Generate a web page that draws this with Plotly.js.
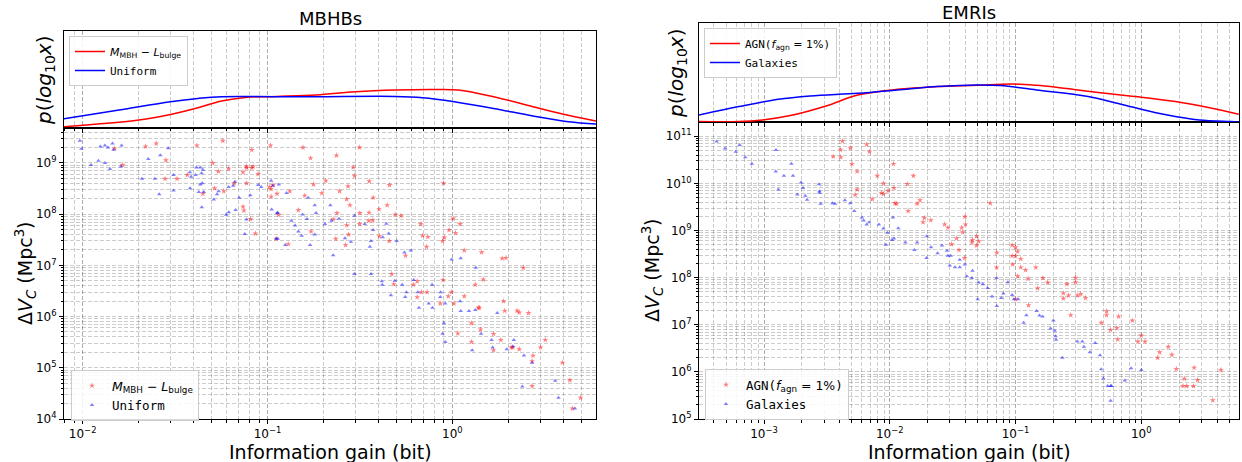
<!DOCTYPE html>
<html><head><meta charset="utf-8">
<script src="https://cdn.plot.ly/plotly-3.0.1.min.js"></script>
<style>html,body{margin:0;padding:0;background:#fff}#plot{width:1242px;height:462px}</style>
</head><body><div id="plot"></div>
<script>
// ---------------- DATA ----------------
// MBHBs: KDE of log10(information gain)
const mbhbKdeRedX = [0.00792,0.02014,0.02985,0.04207,0.05649,0.07586,0.1122,0.1837,0.2999,0.4898,0.7998,1.074,1.671,2.729,3.846,5.984];
const mbhbKdeRedP = [0.014,0.108,0.186,0.280,0.374,0.424,0.438,0.458,0.504,0.528,0.536,0.528,0.434,0.294,0.200,0.094];
const mbhbKdeBlueX = [0.00792,0.01574,0.02985,0.04207,0.05649,0.1122,0.1837,0.4898,0.6902,1.023,1.671,2.729,4.246,5.984];
const mbhbKdeBlueP = [0.126,0.248,0.364,0.410,0.434,0.434,0.434,0.438,0.420,0.364,0.270,0.164,0.084,0.052];

// MBHBs scatter: M_MBH - L_bulge (red stars)
const mbhbRedX = [0.0149,0.01644,0.0219,0.025,0.0282,0.0279,0.0324,0.0368,0.0415,0.0447,0.0505,0.0517,0.0542,0.0573,0.058,0.0616,0.066,0.0737,0.0737,0.0745,0.0768,0.0772,0.077,0.0822,0.081,0.0822,0.0835,0.086,0.0889,0.1038,0.1025,0.1046,0.1046,0.107,0.1114,0.1125,0.1148,0.1294,0.132,0.147,0.1555,0.159,0.171,0.172,0.1773,
0.1968,0.2066,0.2266,0.236,0.2375,0.234,0.2455,0.2645,0.268,0.268,0.2727,0.2745,0.279,0.2904,0.2955,0.3143,0.316,0.315,0.3543,0.355,0.3535,0.3714,0.373,0.401,0.403,0.444,0.4555,0.457,0.47,0.482,0.49,0.527,0.558,0.615,0.645,0.645,0.675,0.68,0.69,0.73,0.725,0.737,0.86,0.885,0.895,0.905,0.89,0.95,0.96,0.99,1.01,1.04,1.02,1.1,1.16,1.16,1.33,1.44,1.47,1.86,1.95,1.89,2.42,
1.38,1.40,1.27,1.07,1.27,1.42,1.67,1.83,1.67,1.92,2.24,2.3,2.58,2.08,2.12,2.3,2.73,2.7,3.0,3.18,2.7,3.94,4.32,4.94,4.46];
const mbhbRedY = [1.9e9,9.1e8,2.1e9,2.4e9,1.13e9,4.9e8,4.9e8,5.8e8,2.2e9,2.5e8,1.0e9,3.2e8,6.8e8,2.7e9,2.8e8,7.7e8,4.0e8,6.6e8,1.4e8,1.18e8,8.5e8,8.0e8,4.0e8,1.8e9,8e7,8e8,8.5e8,4.2e7,6.1e8,2.2e9,3.4e8,3.1e8,2.2e8,3.7e8,3.3e7,2.5e8,9.7e7,2.6e7,2.8e8,1.2e8,2.0e9,2.3e8,1.24e9,4.6e7,3.8e8,
2.57e8,4.5e8,8e7,1.4e9,1.05e8,3.3e7,2.8e8,2.5e7,1.96e8,6.1e7,3.5e8,4e7,1.5e8,8.2e8,5.6e8,2.0e9,1.05e8,6.4e7,1.07e8,4.4e8,7.4e7,7.6e7,2.1e8,1.25e8,3.7e7,1.5e8,3e7,3.7e8,6.8e6,4.3e6,9.8e7,9.3e7,1.55e7,4.2e6,4.9e6,2.4e6,6.4e7,3e6,3.8e7,3e6,2.3e7,3.6e7,1.8e6,3e7,4e8,3.5e7,5.2e6,2.5e6,4.9e7,3e6,8.2e7,4.3e7,1.8e6,6.4e7,1.96e7,2.5e6,4.2e6,1.8e7,5.3e6,1.37e7,1.4e7,2e6,9e6,
1.49e6,1.49e6,7.4e5,4.7e5,3.2e5,5.6e5,4.6e5,3.5e5,2.2e5,1.29e6,1.3e6,1.2e6,1.17e6,2.5e5,2.5e5,2.3e5,1.73e5,1.35e5,2.5e5,3.5e5,4.4e4,1.26e5,5.7e4,2.6e4,1.6e4];

// MBHBs scatter: Uniform (blue triangles)
const mbhbBlueX = [0.00966,0.00984,0.0111,0.01217,0.01247,0.0132,0.0132,0.0137,0.01406,0.0145,0.01467,0.01624,0.0161,0.02094,0.02265,0.0246,0.02596,0.0263,0.02903,0.031,0.031,0.038,0.0386,0.0381,0.0408,0.0412,0.0425,0.0433,0.0447,0.0433,0.0444,0.044,0.0441,0.0452,0.0512,0.0533,0.0544,0.0597,0.0617,0.0616,0.0652,0.0667,0.0672,0.0703,0.0753,0.077,0.0807,0.089,0.0925,0.1046,0.1053,0.107,0.1114,0.1135,0.1125,0.1136,0.1152,0.1247,0.1268,0.1346,0.141,0.1468,0.153,0.155,0.1635,0.166,0.17,0.18,0.18,0.183,
0.2044,0.2187,0.222,0.2266,0.2435,0.2625,0.2826,0.2955,0.2955,0.3355,0.358,0.3626,0.363,0.3727,0.42,0.415,0.4175,0.4395,0.4525,0.465,0.488,0.50,0.5355,0.55,0.564,0.556,0.596,0.618,0.65,0.745,0.777,0.86,0.865,0.915,0.99,1.1,1.11,1.34,
0.66,0.78,0.9,0.885,0.915,1.11,1.23,1.33,1.28,1.43,1.63,1.65,1.75,1.97,2.15,2.13,2.44,2.7,2.39,3.6,3.75,4.6];
const mbhbBlueY = [2.7e9,1.9e9,9.1e8,1.1e9,2.1e9,2.2e9,1.0e9,2.0e9,7.6e8,2.4e9,1.8e9,2.2e9,8.5e8,4.9e8,1.2e9,4.9e8,2.45e8,1.41e9,1.93e9,5.8e8,2.9e8,6.6e8,5.4e8,3.2e8,5.8e8,8.1e8,2.7e8,8.1e8,7.4e8,3.8e8,4.0e8,6.3e8,1.37e8,2.7e8,1.93e8,2.45e8,2.8e8,9.7e7,1.09e8,3.4e8,3.6e8,4.3e8,1.2e8,2.1e8,4.1e7,7.9e7,2.35e8,3.7e8,3.4e8,4.5e8,1.23e8,3.6e8,3.3e7,3.3e7,1.05e8,1.07e8,3.8e8,2.5e7,2.6e8,7.4e7,6.0e7,4.6e7,3.8e7,9.8e7,8e7,2.1e8,2.5e7,1.5e8,4e7,1.05e8,
6.4e7,1.5e8,7.4e7,1.58e7,8.1e7,3.4e7,2.9e7,9.3e7,6.8e6,6.4e7,2.3e7,3e7,6.8e6,4.9e7,3.55e7,4.9e6,4.2e6,6.5e7,4.2e7,2.6e6,5e6,3e7,4.2e6,1.78e7,3e6,2.4e6,1.94e7,5.2e6,3e6,1.8e6,4.2e6,2.4e6,3e6,1.8e6,1.3e7,2e6,1.37e7,9e6,
1.49e6,1.49e6,7.4e5,4.6e5,3.2e5,1.29e6,1.29e6,1.35e6,2.2e5,4.6e5,3.5e5,2.5e5,1.17e6,2.3e5,3.5e5,2.6e5,1.73e5,1.26e5,4.3e4,5.6e4,2.6e4,1.6e4];

// EMRIs: KDE of log10(information gain)
const emriKdeRedX = [0.000304,0.000630,0.000973,0.00162,0.00311,0.00557,0.0115,0.0238,0.0493,0.0948,0.1466,0.2109,0.4365,0.9036,1.866,3.342,5.970];
const emriKdeRedP = [0.007,0.007,0.023,0.067,0.163,0.273,0.330,0.357,0.370,0.383,0.370,0.350,0.300,0.257,0.207,0.150,0.080];
const emriKdeBlueX = [0.000304,0.000630,0.00130,0.00233,0.00557,0.0115,0.0238,0.0493,0.0762,0.1466,0.3776,0.7816,1.614,2.891,5.164,5.970];
const emriKdeBlueP = [0.073,0.157,0.230,0.263,0.290,0.323,0.357,0.373,0.367,0.323,0.257,0.163,0.073,0.023,0.007,0.003];

// EMRIs scatter: AGN (f_agn = 1%) (red stars)
const emriRedX = [3.55e-3,4.07e-3,4.2e-3,4.07e-3,4.85e-3,5.0e-3,5.5e-3,5.3e-3,5.5e-3,6.55e-3,6.9e-3,7.25e-3,7.95e-3,8.6e-3,8.9e-3,8.9e-3,9.7e-3,1.07e-2,1.08e-2,1.1e-2,1.13e-2,1.38e-2,1.54e-2,1.4e-2,1.65e-2,1.74e-2,1.88e-2,1.84e-2,2.12e-2,
2.73e-2,2.9e-2,3.96e-2,4.0e-2,3.73e-2,3.8e-2,3.4e-2,3.1e-2,3.55e-2,3.94e-2,4.55e-2,4.9e-2,5.1e-2,4.5e-2,4.9e-2,6.3e-2,7.1e-2,7.07e-2,9.4e-2,0.1,0.104,0.1,0.094,0.095,0.11,0.11,0.12,0.104,0.126,0.145,0.165,0.18,0.15,0.3,0.3,0.256,0.24,0.264,0.24,0.31,0.33,0.36,0.1,
0.127,0.275,0.53,0.53,0.48,0.66,0.85,0.57,0.64,0.65,1.0,0.94,1.07,1.64,1.4,1.35,1.75,1.9,2.63,2.2,2.8,2.15,2.3,2.6,4.3,3.7];
const emriRedY = [3.7e10,5.2e10,7.9e10,3.6e10,5.6e10,2.6e10,1.8e10,5.7e9,7.4e9,6.7e10,4.7e10,4.6e9,1.45e10,6.3e9,1.0e10,6.0e9,7.0e9,2.6e10,8e9,3.8e9,3.7e9,9.7e9,1.45e10,2.6e9,3.7e9,4.4e9,1.86e9,1.5e9,1.66e9,
1.35e9,1.15e9,1.96e9,1.35e9,1.15e9,9.2e8,6.8e8,5.1e8,3.85e8,2.6e8,6.3e8,7.6e8,5.9e8,5.6e8,4.8e8,3.8e9,3.4e8,1.65e8,4.9e8,4.4e8,3.6e8,2.9e8,2.9e8,1.9e8,2.5e8,1.65e8,1.45e8,1.07e8,9.5e7,1.65e8,9.8e7,7.9e7,6e7,1e8,8e7,7.3e7,4.7e7,4.2e7,3.6e7,4.2e7,4.5e7,3.7e7,3.5e7,
2.6e7,1.6e7,1.94e7,1.6e7,1.1e7,1.5e7,1.23e7,7.8e6,8.5e6,4.9e6,5.9e6,4.4e6,4.4e6,3.4e6,2.6e6,2e6,2.3e6,1.15e6,1.23e6,7.2e5,6.7e5,5e5,5e5,5e5,1.1e6,2.5e5];

// EMRIs scatter: Galaxies (blue triangles)
const emriBlueX = [4.2e-4,4.9e-4,5.96e-4,6.4e-4,7.1e-4,8.0e-4,1.245e-3,1.24e-3,1.3e-3,1.44e-3,1.65e-3,1.7e-3,1.84e-3,1.97e-3,2.04e-3,2.13e-3,2.2e-3,2.73e-3,2.76e-3,2.76e-3,2.82e-3,3.5e-3,3.67e-3,4.4e-3,4.85e-3,5.22e-3,6.0e-3,6.2e-3,6.55e-3,6.85e-3,8.2e-3,8.9e-3,9.3e-3,9.6e-3,1.04e-2,1.08e-2,1.06e-2,1.17e-2,1.33e-2,1.57e-2,1.65e-2,1.96e-2,1.97e-2,2.13e-2,2.4e-2,
2.6e-2,2.85e-2,2.9e-2,3.05e-2,3.0e-2,3.3e-2,3.6e-2,3.6e-2,3.96e-2,4.1e-2,4.5e-2,4.55e-2,5.1e-2,5.5e-2,6.0e-2,7.07e-2,6.5e-2,5.0e-2,7.7e-2,8.0e-2,8.7e-2,9.4e-2,0.097,0.105,
7.1e-2,0.122,0.116,0.147,0.155,0.164,0.2,0.19,0.205,0.208,0.21,0.236,0.31,0.34,0.35,0.43,0.39,0.47,0.48,0.5,0.54,0.57,0.58,0.57,0.74,0.83,1.0];
const emriBlueY = [7.8e10,5.5e10,4.7e10,6.5e10,3.6e10,2.6e10,5.1e10,1.8e10,7.4e9,1.45e10,2.6e10,1.46e10,5.8e9,1.05e10,8.0e9,5.5e9,4.5e9,9.6e9,6.8e9,6.3e9,3.7e9,3.8e9,3.7e9,4.4e9,3.8e9,2.6e9,1.9e9,1.63e9,1.35e9,1.5e9,1.35e9,1.1e9,5e8,9e8,6.3e8,6.8e8,1.9e9,1.12e9,5.6e8,3.85e8,5.6e8,2.6e8,7.6e8,4.4e8,3.3e8,
4.8e8,3.7e8,2.9e8,2.9e8,1.8e8,1.66e8,1.66e8,2.4e8,1.9e8,1.07e8,9.8e7,1.4e8,7.9e7,7.2e7,6e7,9.8e7,4e7,3.5e7,3.7e7,4.6e7,8e7,4.3e7,3.5e7,3.5e7,
2.5e7,1.6e7,1.1e7,1.95e7,1.58e7,1.5e7,1.23e7,8.3e6,7.5e6,5.7e6,4.8e6,2e6,4.4e6,4.4e6,3.4e6,4.1e6,2.6e6,2.25e6,1.14e6,7.2e5,5e5,5e5,5e5,2.45e5,6.6e5,1.2e6,1.1e6];

// Tick labels
const mbhbXTickVals = [0.01, 0.1, 1];
const mbhbXTickText = ['10<sup>−2</sup>','10<sup>−1</sup>','10<sup>0</sup>'];
const mbhbYTickVals = [1e4,1e5,1e6,1e7,1e8,1e9];
const mbhbYTickText = ['10<sup>4</sup>','10<sup>5</sup>','10<sup>6</sup>','10<sup>7</sup>','10<sup>8</sup>','10<sup>9</sup>'];
const emriXTickVals = [0.001, 0.01, 0.1, 1];
const emriXTickText = ['10<sup>−3</sup>','10<sup>−2</sup>','10<sup>−1</sup>','10<sup>0</sup>'];
const emriYTickVals = [1e5,1e6,1e7,1e8,1e9,1e10,1e11];
const emriYTickText = ['10<sup>5</sup>','10<sup>6</sup>','10<sup>7</sup>','10<sup>8</sup>','10<sup>9</sup>','10<sup>10</sup>','10<sup>11</sup>'];

const labelMBH = '<span style="font-family:DejaVu Sans"><i>M</i><sub>MBH</sub> − <i>L</i><sub>bulge</sub></span>';
const labelUniform = 'Uniform';
const labelAGN = 'AGN(<span style="font-family:DejaVu Sans"><i>f</i><sub>agn</sub> = 1%</span>)';
const labelGal = 'Galaxies';

// ---------------- LAYOUT HELPERS ----------------
const W = 1242, H = 462;
const fx = (a, b) => [a / W, b / W];
const fy = (top, bot) => [1 - bot / H, 1 - top / H];
function minorVals(lo, hi) {
  const v = [];
  for (let k = lo; k <= hi; k++) for (let m = 2; m <= 9; m++) v.push(m * Math.pow(10, k));
  return v;
}
const GRID = 'rgba(0,0,0,0.32)', GRIDMIN = 'rgba(0,0,0,0.20)', GD = '4px,2px';
const tickFont = {family: 'DejaVu Sans', size: 12, color: '#000'};

function xAxisCfg(dom, rng, tv, tt, mlo, mhi, anchor, labels) {
  return {
    domain: dom, anchor: anchor, type: 'log', range: rng, autorange: false,
    tickmode: 'array', tickvals: tv, ticktext: tt, showticklabels: labels,
    ticks: 'outside', ticklen: 4, tickwidth: 1, tickcolor: '#000', tickfont: tickFont,
    showline: true, mirror: true, linecolor: '#000', linewidth: 1,
    showgrid: true, gridcolor: GRID, griddash: GD, gridwidth: 1, zeroline: false,
    minor: {tickmode: 'array', tickvals: minorVals(mlo, mhi), ticks: 'outside', ticklen: 2.5, tickcolor: '#000',
            showgrid: true, gridcolor: GRIDMIN, griddash: GD, gridwidth: 1}
  };
}
function yLogCfg(dom, rng, tv, tt, mlo, mhi, anchor) {
  return {
    domain: dom, anchor: anchor, type: 'log', range: rng, autorange: false,
    tickmode: 'array', tickvals: tv, ticktext: tt,
    ticks: 'outside', ticklen: 4, tickwidth: 1, tickcolor: '#000', tickfont: tickFont,
    showline: true, mirror: true, linecolor: '#000', linewidth: 1,
    showgrid: true, gridcolor: GRIDMIN, griddash: GD, gridwidth: 1, zeroline: false,
    minor: {tickmode: 'array', tickvals: minorVals(mlo, mhi), ticks: 'outside', ticklen: 2.5, tickcolor: '#000',
            showgrid: true, gridcolor: GRIDMIN, griddash: GD, gridwidth: 1}
  };
}
function yLinCfg(dom, rng, anchor) {
  return {domain: dom, anchor: anchor, range: rng, autorange: false, showticklabels: false, ticks: '',
          showgrid: false, zeroline: false, showline: true, mirror: true, linecolor: '#000', linewidth: 1};
}

const traces = [
  {x: mbhbKdeRedX, y: mbhbKdeRedP, xaxis: 'x2', yaxis: 'y2', mode: 'lines', line: {color: '#ff0000', width: 1.5, shape: 'spline'}, name: labelMBH, legend: 'legend'},
  {x: mbhbKdeBlueX, y: mbhbKdeBlueP, xaxis: 'x2', yaxis: 'y2', mode: 'lines', line: {color: '#0000ff', width: 1.5, shape: 'spline'}, name: labelUniform, legend: 'legend'},
  {x: mbhbRedX, y: mbhbRedY, xaxis: 'x', yaxis: 'y', mode: 'markers', marker: {symbol: 'star', size: 4.5, color: '#ff0000', opacity: 0.5}, name: labelMBH, legend: 'legend2'},
  {x: mbhbBlueX, y: mbhbBlueY, xaxis: 'x', yaxis: 'y', mode: 'markers', marker: {symbol: 'triangle-up', size: 4, color: '#0000ff', opacity: 0.5}, name: labelUniform, legend: 'legend2'},
  {x: emriKdeRedX, y: emriKdeRedP, xaxis: 'x4', yaxis: 'y4', mode: 'lines', line: {color: '#ff0000', width: 1.5, shape: 'spline'}, name: labelAGN, legend: 'legend3'},
  {x: emriKdeBlueX, y: emriKdeBlueP, xaxis: 'x4', yaxis: 'y4', mode: 'lines', line: {color: '#0000ff', width: 1.5, shape: 'spline'}, name: labelGal, legend: 'legend3'},
  {x: emriRedX, y: emriRedY, xaxis: 'x3', yaxis: 'y3', mode: 'markers', marker: {symbol: 'star', size: 4.5, color: '#ff0000', opacity: 0.5}, name: labelAGN, legend: 'legend4'},
  {x: emriBlueX, y: emriBlueY, xaxis: 'x3', yaxis: 'y3', mode: 'markers', marker: {symbol: 'triangle-up', size: 4, color: '#0000ff', opacity: 0.5}, name: labelGal, legend: 'legend4'}
];

function legendCfg(xp, yp, size) {
  return {x: xp / W, y: 1 - yp / H, xanchor: 'left', yanchor: 'top', bgcolor: 'rgba(255,255,255,0.85)',
          bordercolor: '#cccccc', borderwidth: 1, font: {family: 'DejaVu Sans Mono', size: size, color: '#000'},
          itemwidth: 30, tracegroupgap: 0, traceorder: 'normal'};
}

const ann = (text, xp, yp, size, angle) => ({
  text: text, x: xp / W, y: 1 - yp / H, xref: 'paper', yref: 'paper', xanchor: 'center', yanchor: 'middle',
  showarrow: false, textangle: angle || 0, font: {family: 'DejaVu Sans', size: size, color: '#000'}
});

const layout = {
  width: W, height: H, margin: {l: 0, r: 0, t: 0, b: 0}, paper_bgcolor: '#fff', plot_bgcolor: '#fff',
  showlegend: true,
  xaxis: xAxisCfg(fx(64, 596), [-2.101, 0.777], mbhbXTickVals, mbhbXTickText, -3, 0, 'y', true),
  yaxis: yLogCfg(fy(127.7, 419), [4.0, 9.688], mbhbYTickVals, mbhbYTickText, 4, 9, 'x'),
  xaxis2: xAxisCfg(fx(64, 596), [-2.101, 0.777], mbhbXTickVals, mbhbXTickText, -3, 0, 'y2', false),
  yaxis2: yLinCfg(fy(31, 127.7), [0, 1.354], 'x2'),
  xaxis3: xAxisCfg(fx(699, 1239), [-3.517, 0.777], emriXTickVals, emriXTickText, -4, 0, 'y3', true),
  yaxis3: yLogCfg(fy(122.3, 419), [5.0, 11.297], emriYTickVals, emriYTickText, 5, 11, 'x3'),
  xaxis4: xAxisCfg(fx(699, 1239), [-3.517, 0.777], emriXTickVals, emriXTickText, -4, 0, 'y4', false),
  yaxis4: yLinCfg(fy(23.3, 122.3), [0, 0.99], 'x4'),
  legend: legendCfg(69, 36, 11),
  legend2: legendCfg(71, 370, 12.5),
  legend3: legendCfg(704, 28, 11),
  legend4: legendCfg(705, 369, 12.5),
  annotations: [
    ann('MBHBs', 330, 19, 18),
    ann('EMRIs', 969, 13, 18),
    ann('Information gain (bit)', 330, 452, 19),
    ann('Information gain (bit)', 969, 452, 19),
    ann('Δ<i>V</i><sub><i>C</i></sub> (Mpc<sup>3</sup>)', 25, 273, 19, -90),
    ann('Δ<i>V</i><sub><i>C</i></sub> (Mpc<sup>3</sup>)', 652, 270, 19, -90),
    ann('<i>p</i>(<i>log</i><sub>10</sub><i>x</i>)', 45, 80, 20, -90),
    ann('<i>p</i>(<i>log</i><sub>10</sub><i>x</i>)', 677, 73, 20, -90)
  ]
};

Plotly.newPlot('plot', traces, layout, {displayModeBar: false, staticPlot: true});
</script>
</body></html>
